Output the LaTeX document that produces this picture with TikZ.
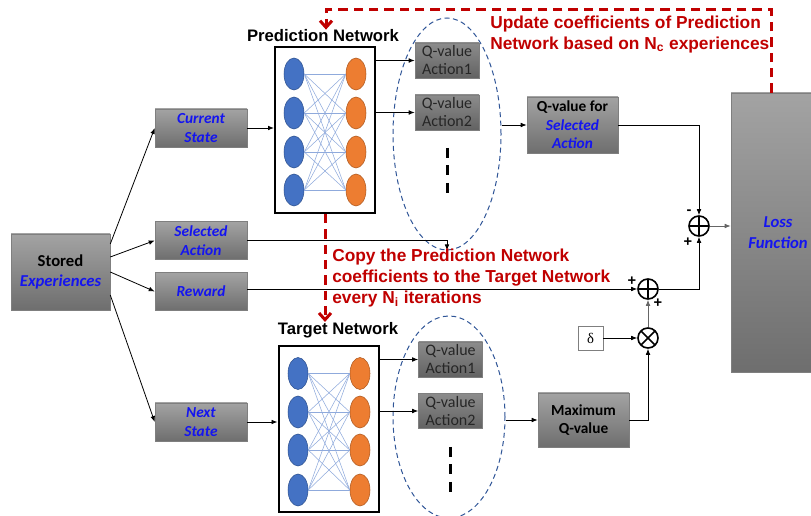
\documentclass[tikz,border=0pt]{standalone}
\usepackage{fontspec}
\setmainfont{Carlito}
\newfontfamily\arialfont{Liberation Sans}
\newfontfamily\timesfont{Liberation Serif}
\usetikzlibrary{positioning, arrows.meta, calc, shapes.geometric}

\definecolor{boxtop}{HTML}{A3A3A3}
\definecolor{boxbot}{HTML}{6E6E6E}
\definecolor{qtop}{HTML}{8C8C8C}
\definecolor{qbot}{HTML}{626262}
\definecolor{boxline}{HTML}{7F7F7F}
\definecolor{textblue}{HTML}{1414F0}
\definecolor{copyred}{HTML}{C00000}
\definecolor{inblue}{HTML}{4472C4}
\definecolor{inblueline}{HTML}{2F528F}
\definecolor{outorange}{HTML}{ED7D31}
\definecolor{outorangeline}{HTML}{AE5A21}
\definecolor{linkblue}{HTML}{8FAADC}
\definecolor{groupblue}{HTML}{2F5597}

\begin{document}
\begin{tikzpicture}[x=0.75pt, y=-0.75pt,
  graybox/.style={draw=boxline, top color=boxtop, bottom color=boxbot, align=center,
    inner sep=0pt, font=\bfseries\fontsize{11.5}{14}\selectfont},
  inbox/.style={graybox, minimum width=69pt, minimum height=28.5pt,
    text=textblue, font=\bfseries\itshape\fontsize{11.5}{14}\selectfont},
  qbox/.style={draw=boxline, top color=qtop, bottom color=qbot, align=center, inner sep=0pt,
    minimum width=48pt, minimum height=26.25pt, text=black!85,
    font=\fontsize{12}{13.5}\selectfont},
  netbox/.style={draw, line width=1.5pt, minimum width=75pt, minimum height=124.5pt},
  nettitle/.style={inner sep=0pt, font=\arialfont\bfseries\fontsize{12.5}{15}\selectfont},
  inneuron/.style={ellipse, draw=inblueline, fill=inblue, line width=0.4pt,
    minimum width=15pt, minimum height=24pt, inner sep=0pt},
  outneuron/.style={inneuron, draw=outorangeline, fill=outorange},
  link/.style={linkblue, line width=0.4pt},
  group/.style={ellipse, draw=groupblue, line width=0.75pt, dash pattern=on 3.75pt off 2.6pt, inner sep=0pt},
  dots/.style={line width=2.25pt, dash pattern=on 7.5pt off 5.6pt},
  flow/.style={-{Latex[length=4.5pt,width=3.5pt]}, line width=0.6pt},
  copyline/.style={copyred, line width=2.25pt, dash pattern=on 7pt off 4.5pt,
    -{Straight Barb[length=5pt,width=9pt]}},
  opnode/.style={circle, draw, line width=1.2pt, minimum size=15pt, inner sep=0pt, fill=white},
  sumnode/.style={opnode, path picture={
    \draw[line width=1.2pt] (path picture bounding box.north) -- (path picture bounding box.south)
      (path picture bounding box.west) -- (path picture bounding box.east);}},
  mulnode/.style={opnode, path picture={
    \draw[line width=1.2pt] (path picture bounding box.north west) -- (path picture bounding box.south east)
      (path picture bounding box.south west) -- (path picture bounding box.north east);}},
  sign/.style={inner sep=0pt, font=\arialfont\bfseries\fontsize{11}{11}\selectfont},
  note/.style={copyred, align=left, inner sep=0pt, font=\arialfont\bfseries\fontsize{13}{15.5}\selectfont}
]
  \useasboundingbox (0,0) rectangle (811,516);

  % experience replay and its four outputs
  \node[graybox, minimum width=74.25pt, minimum height=57pt,
    font=\bfseries\fontsize{12.5}{15.5}\selectfont] (stored) at (60.5,272)
    {Stored\\\textcolor{textblue}{\itshape Experiences}};
  \node[inbox] (current) at (201,128) {Current\\State};
  \node[inbox] (selected) at (201,240.5) {Selected\\Action};
  \node[inbox] (reward) at (201,291.5) {Reward};
  \node[inbox] (next) at (201,422) {Next\\State};

  \draw[flow] ([yshift=21pt]stored.east) -- (current.west);
  \draw[flow] ([yshift=11.25pt]stored.east) -- (selected.west);
  \draw[flow] (stored.east) -- (reward.west);
  \draw[flow] ([yshift=-17.25pt]stored.east) -- (next.west);

  % prediction and target networks
  \node[netbox] (pnet) at (325,130) {};
  \node[netbox] (tnet) at (328.5,429.5) {};
  \node[nettitle] (ptitle) at (323,36) {Prediction Network};
  \node[nettitle] (ttitle) at (338,330) {Target Network};
  \foreach \i/\y in {1/74,2/113,3/152,4/190} {
    \node[inneuron] (pin\i) at (294,\y) {};
    \node[outneuron] (pout\i) at (356,\y) {};
  }
  \foreach \i/\y in {1/373.5,2/412,3/450,4/490} {
    \node[inneuron] (tin\i) at (298,\y) {};
    \node[outneuron] (tout\i) at (360,\y) {};
  }
  \foreach \i in {1,...,4}
    \foreach \j in {1,...,4} {
      \draw[link] (pin\i.east) -- (pout\j.west);
      \draw[link] (tin\i.east) -- (tout\j.west);
    }

  \draw[flow] (current.east) -- (current.east -| pnet.west);
  \draw[flow] (next.east) -- (next.east -| tnet.west);

  % Q-values of all actions
  \node[group, minimum width=81pt, minimum height=174pt] (pgroup) at (447,134) {};
  \node[group, minimum width=84pt, minimum height=151.5pt] (tgroup) at (449,417) {};
  \node[qbox] (pq1) at (447,60.5) {Q-value\\Action1};
  \node[qbox] (pq2) at (447,112.5) {Q-value\\Action2};
  \node[qbox] (tq1) at (450.5,359.5) {Q-value\\Action1};
  \node[qbox] (tq2) at (450.5,411) {Q-value\\Action2};
  \coordinate (pdots) at (447,148);
  \coordinate (tdots) at (450,447);
  \draw[dots] (pdots) -- ++(0,45);
  \draw[dots] (tdots) -- ++(0,45);

  \draw[flow] (pnet.east |- pq1.west) -- (pq1.west);
  \draw[flow] (pnet.east |- pq2.west) -- (pq2.west);
  \draw[flow] (tnet.east |- tq1.west) -- (tq1.west);
  \draw[flow] (tnet.east |- tq2.west) -- (tq2.west);

  % loss computation
  \node[graybox, minimum width=68.25pt, minimum height=42pt] (qsel) at (572.5,125)
    {Q-value for\\\textcolor{textblue}{\itshape Selected}\\\textcolor{textblue}{\itshape Action}};
  \node[graybox, minimum width=68.25pt, minimum height=40.5pt] (maxq) at (583.5,420)
    {Maximum\\Q-value};
  \node[draw=boxline, fill=white, minimum width=18.75pt, minimum height=18pt, inner sep=0pt,
    font=\timesfont\fontsize{11}{11}\selectfont] (delta) at (590.5,338) {δ};
  \node[graybox, minimum width=70.5pt, minimum height=209.25pt, text=textblue,
    font=\bfseries\itshape\fontsize{12.5}{15.5}\selectfont] (loss) at (778,232.5) {Loss\\Function};
  \node[sumnode] (sum1) at (699,226) {};
  \node[sumnode] (sum2) at (648,289) {};
  \node[mulnode] (mult) at (648,338) {};
  \node[sign] at (689,212) {-};
  \node[sign] at (688,242) {+};
  \node[sign] at (632,281) {+};
  \node[sign] at (658,303) {+};

  \draw[flow] (selected.east) -| (pgroup.south);
  \draw[flow] (pgroup.east |- qsel.west) -- (qsel.west);
  \draw[flow] (qsel.east) -| (sum1.north);
  \draw[flow, black!60] (sum1.east) -- (sum1.east -| loss.west);
  \draw[flow] (reward.east |- sum2.west) -- (sum2.west);
  \draw[flow] (sum2.east) -| (sum1.south);
  \draw[flow] (delta.east) -- (mult.west);
  \draw[flow, black!60] (mult.north) -- (sum2.south);
  \draw[flow] (tgroup.east |- maxq.west) -- (maxq.west);
  \draw[flow] (maxq.east) -| (mult.south);

  % coefficient updates
  \coordinate (updcorner) at (326,10);
  \draw[copyline] ([xshift=-5.25pt]loss.north) |- (updcorner) -- (updcorner |- ptitle.north);
  \draw[copyline] (pnet.south) -- (pnet.south |- ttitle.north);
  \node[note, anchor=north west] (updnote) at (490,16)
    {Update coefficients of Prediction\\Network based on N\textsubscript{c} experiences};
  \node[note, anchor=north west] (copynote) at (332,249)
    {Copy the Prediction Network\\coefficients to the Target Network\\every N\textsubscript{i} iterations};
\end{tikzpicture}
\end{document}
